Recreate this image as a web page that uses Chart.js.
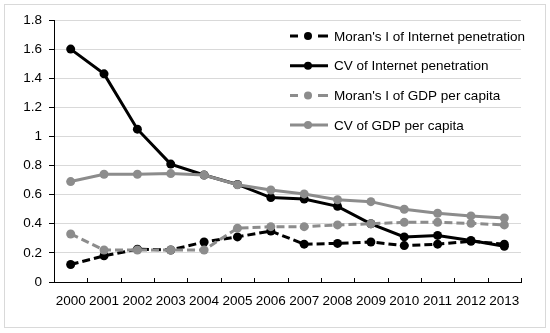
<!DOCTYPE html>
<html>
<head>
<meta charset="utf-8">
<script src="https://cdn.jsdelivr.net/npm/chart.js@4.4.1/dist/chart.umd.min.js"></script>
<style>
  body { margin: 0; background: #fff; }
</style>
</head>
<body>
<canvas id="myChart" width="550" height="333"></canvas>
<script>
const years = ["2000", "2001", "2002", "2003", "2004", "2005", "2006", "2007", "2008", "2009", "2010", "2011", "2012", "2013"];
const moranInternet = [0.12, 0.18, 0.225, 0.22, 0.275, 0.31, 0.35, 0.26, 0.265, 0.275, 0.25, 0.26, 0.28, 0.26];
const cvInternet = [1.6, 1.43, 1.05, 0.81, 0.735, 0.67, 0.58, 0.57, 0.52, 0.4, 0.31, 0.32, 0.285, 0.245];
const moranGdp = [0.33, 0.22, 0.22, 0.22, 0.22, 0.37, 0.38, 0.38, 0.392, 0.4, 0.41, 0.41, 0.403, 0.392];
const cvGdp = [0.69, 0.74, 0.74, 0.745, 0.735, 0.668, 0.632, 0.605, 0.565, 0.552, 0.5, 0.472, 0.454, 0.44];
const seriesNames = ["Moran's I of Internet penetration", "CV of Internet penetration", "Moran's I of GDP per capita", "CV of GDP per capita"];

const FONT = "'Liberation Sans', Arial, sans-serif";
const FONT_SIZE = 13.5;
const BLACK = "#000000";
const GRAY = "#8c8c8c";

function makeSet(label, data, color, dash, order) {
  return {
    label: label,
    data: data,
    borderColor: color,
    backgroundColor: color,
    pointBackgroundColor: color,
    pointBorderColor: color,
    borderWidth: 3,
    borderDash: dash,
    pointRadius: 4.5,
    pointBorderWidth: 0,
    tension: 0,
    order: order,
  };
}

// frame around the whole figure
const framePlugin = {
  id: "frame",
  beforeDraw(chart) {
    const c = chart.ctx;
    c.save();
    c.fillStyle = "#fff";
    c.fillRect(0, 0, chart.width, chart.height);
    c.strokeStyle = "#d9d9d9";
    c.lineWidth = 1;
    c.strokeRect(4.5, 4.5, 541, 323);
    c.restore();
  },
};

// inside tick marks on the category axis + legend in the plot
const extrasPlugin = {
  id: "extras",
  afterDraw(chart) {
    const c = chart.ctx;
    const area = chart.chartArea;
    c.save();
    c.strokeStyle = "#000";
    c.lineWidth = 1;
    const n = years.length;
    for (let k = 1; k <= n; k++) {
      const x = Math.round(area.left + (k * (area.right - area.left)) / n) + 0.5;
      c.beginPath();
      c.moveTo(x, area.bottom);
      c.lineTo(x, area.bottom - 4);
      c.stroke();
    }
    // legend
    c.font = FONT_SIZE + "px " + FONT;
    c.textBaseline = "middle";
    c.textAlign = "left";
    chart.data.datasets.forEach((ds, i) => {
      const y = 36 + i * 29.7;
      c.strokeStyle = ds.borderColor;
      c.fillStyle = ds.borderColor;
      c.lineWidth = 3;
      c.beginPath();
      if (ds.borderDash.length) {
        c.moveTo(290, y); c.lineTo(298, y);
        c.moveTo(318, y); c.lineTo(328, y);
      } else {
        c.moveTo(290, y); c.lineTo(328, y);
      }
      c.stroke();
      c.beginPath();
      c.arc(308, y, 4, 0, Math.PI * 2);
      c.fill();
      c.fillStyle = "#000";
      c.fillText(ds.label, 334, y + 1);
    });
    c.restore();
  },
};

new Chart(document.getElementById("myChart"), {
  type: "line",
  data: {
    labels: years,
    datasets: [
      makeSet(seriesNames[0], moranInternet, BLACK, [8, 4], 3),
      makeSet(seriesNames[1], cvInternet, BLACK, [], 2),
      makeSet(seriesNames[2], moranGdp, GRAY, [8, 4], 1),
      makeSet(seriesNames[3], cvGdp, GRAY, [], 0),
    ],
  },
  options: {
    responsive: false,
    animation: false,
    devicePixelRatio: 1,
    layout: { padding: { left: 0, right: 29, top: 20, bottom: 0 } },
    plugins: { legend: { display: false }, tooltip: { enabled: false } },
    scales: {
      x: {
        offset: true,
        grid: { display: false, offset: true },
        border: { display: true, color: "#000", width: 1 },
        ticks: { color: "#000", font: { family: FONT, size: FONT_SIZE }, padding: 3, maxRotation: 0, autoSkip: false },
        afterFit(scale) { scale.height = 51; },
      },
      y: {
        min: 0,
        max: 1.8,
        ticks: {
          stepSize: 0.2,
          color: "#000",
          font: { family: FONT, size: FONT_SIZE },
          padding: 7,
          callback: (v) => String(Number(v.toFixed(1))),
        },
        grid: {
          color: (ctx) => (ctx.tick && ctx.tick.value === 0 ? "rgba(0,0,0,0)" : "#d9d9d9"),
          tickColor: "#000",
          tickLength: 5,
        },
        border: { display: true, color: "#000", width: 1 },
        afterFit(scale) { scale.width = 54; },
      },
    },
  },
  plugins: [framePlugin, extrasPlugin],
});
</script>
</body>
</html>
